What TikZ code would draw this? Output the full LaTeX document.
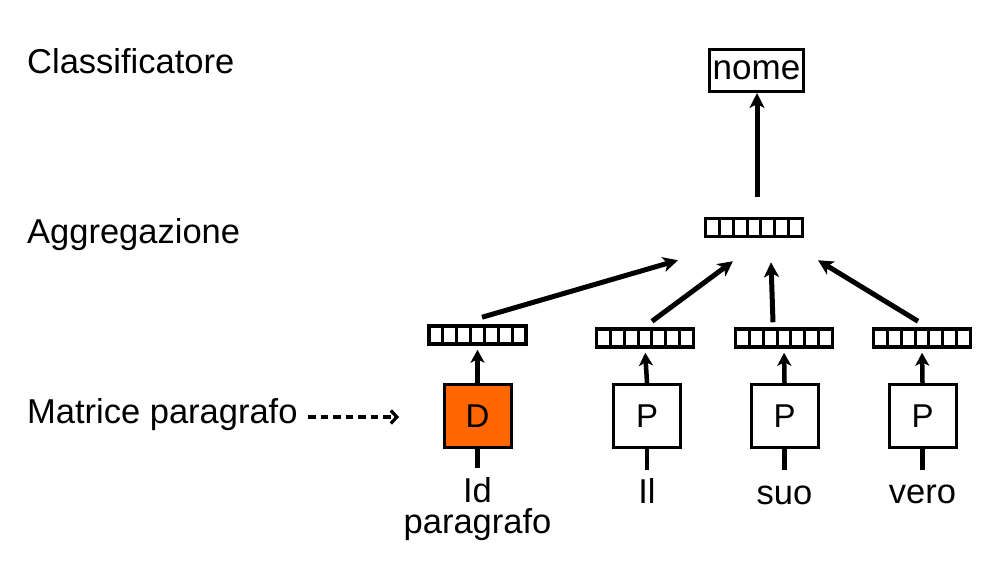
\documentclass[tikz,border=0pt]{standalone}
\usepackage{fontspec}
\setmainfont{Liberation Sans}
\usetikzlibrary{arrows.meta,calc}
\definecolor{dorange}{RGB}{255,102,0}
\begin{document}
\begin{tikzpicture}[x=1pt,y=-1pt,
  lab/.style={font=\fontsize{34.5}{34.5}\selectfont, inner sep=0pt},
  vec/.style={draw, line width=3.5pt, minimum width=97pt, minimum height=18pt, inner sep=0pt,
    path picture={\foreach \i in {1,...,6}{\draw[line width=3pt]
      ($(path picture bounding box.north west)!\i/7!(path picture bounding box.north east)$) --
      ($(path picture bounding box.south west)!\i/7!(path picture bounding box.south east)$);}}},
  wordbox/.style={draw, line width=3pt, minimum width=67pt, minimum height=63pt, inner sep=0pt,
    font=\fontsize{33}{33}\selectfont},
  arr/.style={line width=5pt, -{Stealth[length=15pt,width=15pt,inset=4pt]}},
  sarr/.style={line width=4.5pt, -{Stealth[length=13pt,width=14pt,inset=3.5pt]}},
  stem/.style={line width=4.5pt},
  dasharr/.style={line width=3.2pt, dash pattern=on 7.5pt off 5pt, -{Straight Barb[length=6pt,width=13pt]}}
]
\useasboundingbox (0,0) rectangle (1000,562);

% left labels
\node[lab, anchor=base west] (lcls) at (27,73) {Classificatore};
\node[lab, anchor=base west] (lagg) at (27,243) {Aggregazione};
\node[lab, anchor=base west] (lmat) at (27,423) {Matrice paragrafo};

% classifier
\node[draw, line width=3pt, minimum width=94pt, minimum height=42pt, inner sep=0pt,
      font=\fontsize{35}{35}\selectfont] (nome) at (756.5,70.5) {nome};

% aggregation vector
\node[vec] (agg) at (754,227.5) {};

% word vectors
\node[vec] (v1) at (477.5,335) {};
\node[vec] (v2) at (645,338) {};
\node[vec] (v3) at (784,338) {};
\node[vec] (v4) at (922,338) {};

% boxes
\node[wordbox, fill=dorange] (d) at (477.5,416) {D};
\node[wordbox] (p1) at (647,416) {P};
\node[wordbox] (p2) at (784.5,416) {P};
\node[wordbox] (p3) at (922.5,416) {P};

% word labels
\node[lab, anchor=base] (wid) at (477.5,502) {Id};
\node[lab, anchor=base] (wpar) at (477.5,533) {paragrafo};
\node[lab, anchor=base] (wil) at (647,503) {Il};
\node[lab, anchor=base] (wsuo) at (784.5,504) {suo};
\node[lab, anchor=base] (wvero) at (922.5,503) {vero};

% stems below boxes
\coordinate (s0) at (477.5,468);
\coordinate (s1) at (647,470);
\coordinate (s2) at (784.5,470);
\coordinate (s3) at (922.5,470);
\draw[stem] (d.south) -- (s0);
\draw[stem] (p1.south) -- (s1);
\draw[stem] (p2.south) -- (s2);
\draw[stem] (p3.south) -- (s3);

% box -> vector
\draw[sarr, shorten >=4pt] (d.north) -- (v1.south);
\draw[sarr, shorten >=4pt] (p1.north) -- (v2.south);
\draw[sarr, shorten >=4pt] (p2.north) -- (v3.south);
\draw[sarr, shorten >=4pt] (p3.north) -- (v4.south);

% vector -> aggregation
\draw[arr] ([xshift=4.5pt,yshift=7pt]v1.north) -- ([xshift=-76pt,yshift=-22pt]agg.south);
\draw[arr] ([xshift=7pt,yshift=6pt]v2.north) -- ([xshift=-21pt,yshift=-23pt]agg.south);
\draw[arr] ([xshift=-11pt,yshift=5pt]v3.north) -- ([xshift=17pt,yshift=-24pt]agg.south);
\draw[arr] ([xshift=-4pt,yshift=6pt]v4.north) -- ([xshift=64pt,yshift=-22pt]agg.south);

% aggregation -> classifier
\draw[arr, shorten <=20pt] ([xshift=3pt]agg.north) -- ([xshift=0.5pt]nome.south);

% dashed pointer
\coordinate (dstart) at (308,417);
\coordinate (dend) at (399,417);
\draw[dasharr] (dstart) -- (dend);
\end{tikzpicture}
\end{document}
